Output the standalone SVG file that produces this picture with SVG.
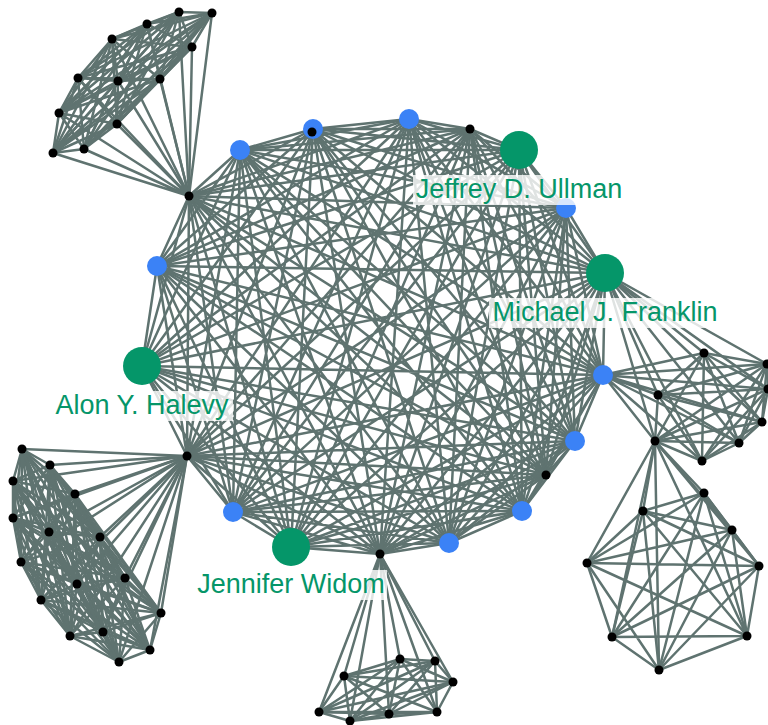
<svg xmlns="http://www.w3.org/2000/svg" width="768" height="725" viewBox="0 0 768 725">
<style>
.e{fill:none;stroke:#5f7370;stroke-width:2.5;stroke-linejoin:round;stroke-linecap:round}
.b{fill:#3b82f6}
.g{fill:#059669}
.k{fill:#000}
.bg{fill:#fff;fill-opacity:0.8}
.t{font-family:"Liberation Sans",Arial,sans-serif;font-size:27px;fill:#059669;text-anchor:middle}
</style>
<g id="edges">
<polygon class="e" points="240,150 313,129 409,119 470,129 519,150 566,208 605,273 603,375 575,441 546,475 522,511 449,543 380,554 291,547 233,512 187,456 142,366 157,266 189,196"/>
<polygon class="e" points="240,150 409,119 519,150 605,273 575,441 522,511 380,554 233,512 142,366 189,196 313,129 470,129 566,208 603,375 546,475 449,543 291,547 187,456 157,266"/>
<polygon class="e" points="240,150 470,129 605,273 546,475 380,554 187,456 189,196 409,119 566,208 575,441 449,543 233,512 157,266 313,129 519,150 603,375 522,511 291,547 142,366"/>
<polygon class="e" points="240,150 519,150 575,441 380,554 142,366 313,129 566,208 546,475 291,547 157,266 409,119 605,273 522,511 233,512 189,196 470,129 603,375 449,543 187,456"/>
<polygon class="e" points="240,150 566,208 522,511 187,456 313,129 605,273 449,543 142,366 409,119 603,375 380,554 157,266 470,129 575,441 291,547 189,196 519,150 546,475 233,512"/>
<polygon class="e" points="240,150 605,273 380,554 189,196 566,208 449,543 157,266 519,150 522,511 142,366 470,129 546,475 187,456 409,119 575,441 233,512 313,129 603,375 291,547"/>
<polygon class="e" points="240,150 603,375 233,512 409,119 546,475 142,366 519,150 449,543 189,196 605,273 291,547 313,129 575,441 187,456 470,129 522,511 157,266 566,208 380,554"/>
<polygon class="e" points="240,150 575,441 142,366 566,208 291,547 409,119 522,511 189,196 603,375 187,456 519,150 380,554 313,129 546,475 157,266 605,273 233,512 470,129 449,543"/>
<polygon class="e" points="240,150 546,475 189,196 575,441 157,266 603,375 142,366 605,273 187,456 566,208 233,512 519,150 291,547 470,129 380,554 409,119 449,543 313,129 522,511"/>
<polygon class="e" points="189,196 53,153 59,113 78,78 112,39 147,24 179,12 212,13 192,47 160,79 118,81 117,124 84,149"/>
<polygon class="e" points="189,196 59,113 112,39 179,12 192,47 118,81 84,149 53,153 78,78 147,24 212,13 160,79 117,124"/>
<polygon class="e" points="189,196 78,78 179,12 160,79 84,149 59,113 147,24 192,47 117,124 53,153 112,39 212,13 118,81"/>
<polygon class="e" points="189,196 112,39 192,47 84,149 78,78 212,13 117,124 59,113 179,12 118,81 53,153 147,24 160,79"/>
<polygon class="e" points="189,196 147,24 118,81 59,113 212,13 84,149 112,39 160,79 53,153 179,12 117,124 78,78 192,47"/>
<polygon class="e" points="189,196 179,12 84,149 147,24 117,124 112,39 118,81 78,78 160,79 59,113 192,47 53,153 212,13"/>
<polygon class="e" points="187,456 22,449 50,465 13,481 75,494 13,518 49,532 100,537 21,562 125,578 77,584 41,600 161,613 70,636 103,632 150,650 119,662"/>
<polygon class="e" points="187,456 50,465 75,494 49,532 21,562 77,584 161,613 103,632 119,662 22,449 13,481 13,518 100,537 125,578 41,600 70,636 150,650"/>
<polygon class="e" points="187,456 13,481 49,532 125,578 161,613 150,650 22,449 75,494 100,537 77,584 70,636 119,662 50,465 13,518 21,562 41,600 103,632"/>
<polygon class="e" points="187,456 75,494 21,562 161,613 119,662 13,481 100,537 41,600 150,650 50,465 49,532 77,584 103,632 22,449 13,518 125,578 70,636"/>
<polygon class="e" points="187,456 13,518 77,584 150,650 13,481 21,562 70,636 22,449 49,532 41,600 119,662 75,494 125,578 103,632 50,465 100,537 161,613"/>
<polygon class="e" points="187,456 49,532 161,613 22,449 100,537 70,636 50,465 21,562 103,632 13,481 125,578 150,650 75,494 77,584 119,662 13,518 41,600"/>
<polygon class="e" points="187,456 100,537 103,632 75,494 41,600 22,449 21,562 150,650 13,518 161,613 50,465 125,578 119,662 49,532 70,636 13,481 77,584"/>
<polygon class="e" points="187,456 21,562 119,662 100,537 150,650 49,532 103,632 13,518 70,636 75,494 161,613 13,481 41,600 50,465 77,584 22,449 125,578"/>
<polygon class="e" points="380,554 319,712 350,721 389,714 437,712 453,682 435,661 400,659 344,676"/>
<polygon class="e" points="380,554 350,721 437,712 435,661 344,676 319,712 389,714 453,682 400,659"/>
<polygon class="e" points="380,554 437,712 344,676 389,714 400,659 350,721 435,661 319,712 453,682"/>
<polygon class="e" points="380,554 389,714 435,661"/>
<polygon class="e" points="319,712 437,712 400,659"/>
<polygon class="e" points="350,721 453,682 344,676"/>
<polygon class="e" points="605,273 704,353 767,364 768,389 762,422 739,443 702,461 655,441 658,395"/>
<polygon class="e" points="605,273 767,364 762,422 702,461 658,395 704,353 768,389 739,443 655,441"/>
<polygon class="e" points="605,273 762,422 658,395 768,389 655,441 767,364 702,461 704,353 739,443"/>
<polygon class="e" points="605,273 768,389 702,461"/>
<polygon class="e" points="704,353 762,422 655,441"/>
<polygon class="e" points="767,364 739,443 658,395"/>
<path class="e" d="M603 375L704 353M603 375L767 364M603 375L768 389M603 375L762 422M603 375L739 443M603 375L702 461M603 375L655 441M603 375L658 395"/>
<polygon class="e" points="655,441 704,493 732,530 759,566 747,636 659,670 612,637 587,563 643,511"/>
<polygon class="e" points="655,441 732,530 747,636 612,637 643,511 704,493 759,566 659,670 587,563"/>
<polygon class="e" points="655,441 747,636 643,511 759,566 587,563 732,530 612,637 704,493 659,670"/>
<polygon class="e" points="655,441 759,566 612,637"/>
<polygon class="e" points="704,493 747,636 587,563"/>
<polygon class="e" points="732,530 659,670 643,511"/>
</g>
<g id="n-r0"><circle class="b" cx="240" cy="150" r="10"/></g>
<g id="n-r1"><circle class="b" cx="313" cy="129" r="10"/></g>
<g id="n-r1b"><circle class="k" cx="312" cy="132" r="4.5"/></g>
<g id="n-r2"><circle class="b" cx="409" cy="119" r="10"/></g>
<g id="n-r3"><circle class="k" cx="470" cy="129" r="4.5"/></g>
<g id="n-r5"><circle class="b" cx="566" cy="208" r="10"/></g>
<g id="n-r7"><circle class="b" cx="603" cy="375" r="10"/></g>
<g id="n-r8"><circle class="b" cx="575" cy="441" r="10"/></g>
<g id="n-r9"><circle class="k" cx="546" cy="475" r="4.5"/></g>
<g id="n-r10"><circle class="b" cx="522" cy="511" r="10"/></g>
<g id="n-r11"><circle class="b" cx="449" cy="543" r="10"/></g>
<g id="n-r12"><circle class="k" cx="380" cy="554" r="4.5"/></g>
<g id="n-r14"><circle class="b" cx="233" cy="512" r="10"/></g>
<g id="n-r15"><circle class="k" cx="187" cy="456" r="4.5"/></g>
<g id="n-r17"><circle class="b" cx="157" cy="266" r="10"/></g>
<g id="n-r18"><circle class="k" cx="189" cy="196" r="4.5"/></g>
<g id="n-tl" class="k">
<circle cx="53" cy="153" r="4.5"/><circle cx="59" cy="113" r="4.5"/><circle cx="78" cy="78" r="4.5"/><circle cx="112" cy="39" r="4.5"/><circle cx="147" cy="24" r="4.5"/><circle cx="179" cy="12" r="4.5"/><circle cx="212" cy="13" r="4.5"/><circle cx="192" cy="47" r="4.5"/><circle cx="160" cy="79" r="4.5"/><circle cx="118" cy="81" r="4.5"/><circle cx="117" cy="124" r="4.5"/><circle cx="84" cy="149" r="4.5"/>
</g>
<g id="n-bl" class="k">
<circle cx="22" cy="449" r="4.5"/><circle cx="50" cy="465" r="4.5"/><circle cx="13" cy="481" r="4.5"/><circle cx="75" cy="494" r="4.5"/><circle cx="13" cy="518" r="4.5"/><circle cx="49" cy="532" r="4.5"/><circle cx="100" cy="537" r="4.5"/><circle cx="21" cy="562" r="4.5"/><circle cx="125" cy="578" r="4.5"/><circle cx="77" cy="584" r="4.5"/><circle cx="41" cy="600" r="4.5"/><circle cx="161" cy="613" r="4.5"/><circle cx="70" cy="636" r="4.5"/><circle cx="103" cy="632" r="4.5"/><circle cx="150" cy="650" r="4.5"/><circle cx="119" cy="662" r="4.5"/>
</g>
<g id="n-bot" class="k">
<circle cx="319" cy="712" r="4.5"/><circle cx="350" cy="721" r="4.5"/><circle cx="389" cy="714" r="4.5"/><circle cx="437" cy="712" r="4.5"/><circle cx="453" cy="682" r="4.5"/><circle cx="435" cy="661" r="4.5"/><circle cx="400" cy="659" r="4.5"/><circle cx="344" cy="676" r="4.5"/>
</g>
<g id="n-rm" class="k">
<circle cx="704" cy="353" r="4.5"/><circle cx="767" cy="364" r="4.5"/><circle cx="768" cy="389" r="4.5"/><circle cx="762" cy="422" r="4.5"/><circle cx="739" cy="443" r="4.5"/><circle cx="702" cy="461" r="4.5"/><circle cx="655" cy="441" r="4.5"/><circle cx="658" cy="395" r="4.5"/>
</g>
<g id="n-br" class="k">
<circle cx="704" cy="493" r="4.5"/><circle cx="732" cy="530" r="4.5"/><circle cx="759" cy="566" r="4.5"/><circle cx="747" cy="636" r="4.5"/><circle cx="659" cy="670" r="4.5"/><circle cx="612" cy="637" r="4.5"/><circle cx="587" cy="563" r="4.5"/><circle cx="643" cy="511" r="4.5"/>
</g>
<g id="n-ullman"><circle class="g" cx="519" cy="150" r="19"/><rect class="bg" x="413" y="175" width="212" height="30"/><text class="t" x="519" y="198">Jeffrey D. Ullman</text></g>
<g id="n-franklin"><circle class="g" cx="605" cy="273" r="19"/><rect class="bg" x="489" y="298" width="232" height="30"/><text class="t" x="605" y="321">Michael J. Franklin</text></g>
<g id="n-halevy"><circle class="g" cx="142" cy="366" r="19"/><rect class="bg" x="51" y="391" width="182" height="30"/><text class="t" x="142" y="414">Alon Y. Halevy</text></g>
<g id="n-widom"><circle class="g" cx="291" cy="547" r="19"/><rect class="bg" x="195" y="570" width="192" height="30"/><text class="t" x="291" y="593">Jennifer Widom</text></g>
</svg>
